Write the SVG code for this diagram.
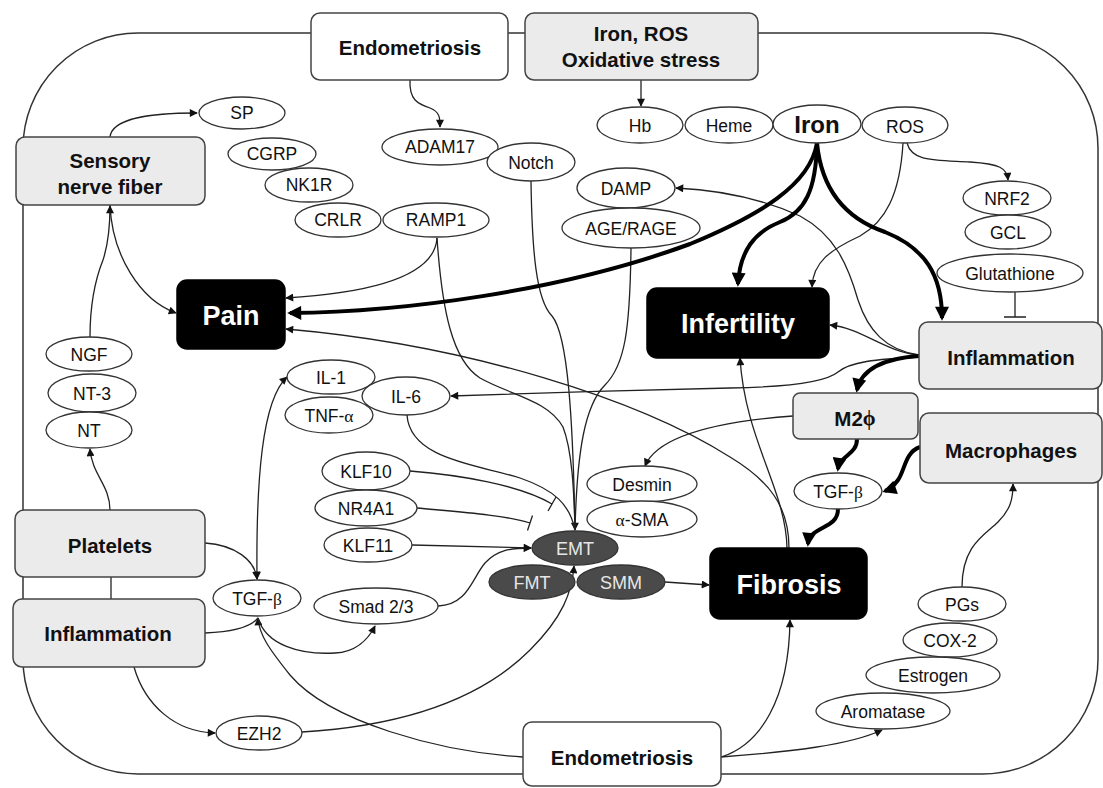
<svg xmlns="http://www.w3.org/2000/svg" width="1103" height="788" viewBox="0 0 1103 788">
<style>
.frame{fill:none;stroke:#333;stroke-width:1.5}
.box{fill:#ebebeb;stroke:#444;stroke-width:1.5}
.wbox{fill:#fff;stroke:#444;stroke-width:1.5}
.bbox{fill:#000;stroke:#000;stroke-width:1.5}
.ell{fill:#fff;stroke:#333;stroke-width:1.3}
.dell{fill:#4a4a4a;stroke:#333;stroke-width:1.3}
.ln{fill:none;stroke:#222;stroke-width:1.3}
.tk{fill:none;stroke:#000;stroke-width:4}
text{font-family:"Liberation Sans",Arial,Helvetica,sans-serif;text-anchor:middle;dominant-baseline:central;fill:#111}
.bt{font-weight:bold;font-size:20.5px}
.et{font-size:17.5px}
.wt{font-weight:bold;font-size:27px;fill:#fff}
.dt{font-size:18px;fill:#e6e6e6}
.gr{font-family:"Liberation Serif","DejaVu Serif",serif}
</style>
<defs>
<marker id="a" viewBox="0 0 10 10" refX="9" refY="5" markerWidth="10" markerHeight="8" markerUnits="userSpaceOnUse" orient="auto-start-reverse"><path d="M0,0 L10,5 L0,10 z" fill="#111"/></marker>
<marker id="ta" viewBox="0 0 10 10" refX="8" refY="5" markerWidth="16" markerHeight="14" markerUnits="userSpaceOnUse" orient="auto"><path d="M0,0 L10,5 L0,10 z" fill="#000"/></marker>
</defs>
<rect class="frame" x="23" y="33" width="1075" height="741" rx="115"/>
<g id="connectors">
<path class="ln" d="M410,80 C409,100 418,104 430,108 C440,112 440,118 440,127" marker-end="url(#a)"/>
<path class="ln" d="M641,80 L641,106" marker-end="url(#a)"/>
<path class="ln" d="M110,137 C112,118 150,113 197,113" marker-end="url(#a)"/>
<path class="ln" d="M907,143 C912,162 935,160 970,162 C1000,164 1007,168 1008,180" marker-end="url(#a)"/>
<path class="ln" d="M903,143 C900,195 885,222 860,236 C830,250 813,262 812,287" marker-end="url(#a)"/>
<path class="ln" d="M1015,292 L1015,317 M1004,317 L1026,317"/>
<path class="ln" d="M919,355 C885,352 862,328 830,325" marker-end="url(#a)"/>
<path class="ln" d="M919,355 C885,350 868,330 858,300 C848,265 835,235 800,216 C760,198 720,190 676,188" marker-end="url(#a)"/>
<path class="ln" d="M919,357 C875,359 850,362 838,372 C826,382 790,387 730,388 C640,390 540,393 451,396" marker-end="url(#a)"/>
<path class="ln" d="M793,416 C740,420 660,430 645,466" marker-end="url(#a)"/>
<path class="ln" d="M787,548 C786,490 745,440 740,358" marker-end="url(#a)"/>
<path class="ln" d="M789,548 C789,505 768,480 730,457 C640,400 470,345 286,329" marker-end="url(#a)"/>
<path class="ln" d="M437,238 C435,272 385,292 286,298" marker-end="url(#a)"/>
<path class="ln" d="M437,238 C442,310 452,360 480,378 C510,395 548,400 563,427 C572,450 574,490 575,530"/>
<path class="ln" d="M531,181 C532,250 536,300 552,316 C568,335 573,420 575,530" marker-end="url(#a)"/>
<path class="ln" d="M631,248 C630,330 625,365 605,385 C585,405 577,450 575,530"/>
<path class="ln" d="M407,415 C410,460 480,465 520,478 C555,490 570,505 575,530"/>
<path class="ln" d="M410,471 C460,475 520,485 552,504 M556,497 L548,511"/>
<path class="ln" d="M417,508 C460,512 505,515 530,523 M532.5,515.5 L527.5,530.5"/>
<path class="ln" d="M412,545 L531,548" marker-end="url(#a)"/>
<path class="ln" d="M438,606 C468,605 472,578 485,563 C497,550 510,548 531,548" marker-end="url(#a)"/>
<path class="ln" d="M665,582 L709,585" marker-end="url(#a)"/>
<path class="ln" d="M302,732 C400,726 480,700 530,650 C563,617 572,592 574,566" marker-end="url(#a)"/>
<path class="ln" d="M523,757 C440,752 330,722 290,675 C270,650 259,635 258,618" marker-end="url(#a)"/>
<path class="ln" d="M205,633 C230,632 250,628 258,618"/>
<path class="ln" d="M258,618 C266,645 300,655 335,653 C355,652 368,640 375,626" marker-end="url(#a)"/>
<path class="ln" d="M205,543 C235,545 255,560 257,579" marker-end="url(#a)"/>
<path class="ln" d="M257,579 C256,480 262,400 287,377" marker-start="url(#a)" marker-end="url(#a)"/>
<path class="ln" d="M110,510 C110,485 92,475 90,449" marker-end="url(#a)"/>
<path class="ln" d="M111,577 L111,599"/>
<path class="ln" d="M134,667 C145,705 175,732 215,733" marker-end="url(#a)"/>
<path class="ln" d="M721,757 C760,745 789,700 790,620" marker-end="url(#a)"/>
<path class="ln" d="M721,757 C790,752 850,745 882,730" marker-end="url(#a)"/>
<path class="ln" d="M962,587 C962,545 985,535 998,522 C1010,510 1013,500 1013,484" marker-end="url(#a)"/>
<path class="ln" d="M110,205 C112,255 140,300 176,313" marker-end="url(#a)"/>
<path class="ln" d="M90,337 C90,300 97,275 103,260 C108,245 110,230 110,206" marker-end="url(#a)"/>
<path class="tk" d="M817,143 C810,185 760,215 690,244 C560,292 400,312 290,313" marker-end="url(#ta)"/>
<path class="tk" d="M817,143 C816,190 805,212 780,222 C755,232 740,250 738,284" marker-end="url(#ta)"/>
<path class="tk" d="M817,143 C822,195 850,220 885,232 C925,248 942,275 942,318" marker-end="url(#ta)"/>
<path class="tk" d="M919,356 C890,358 862,366 857,390" marker-end="url(#ta)"/>
<path class="tk" d="M857,439 C857,455 840,455 838,469" marker-end="url(#ta)"/>
<path class="tk" d="M920,447 C905,452 905,470 898,480 C893,487 888,490 885,491" marker-end="url(#ta)"/>
<path class="tk" d="M838,509 C838,530 810,525 808,544" marker-end="url(#ta)"/>
</g>
<g id="endometriosis-top"><rect class="wbox" x="311" y="13" width="197" height="67" rx="9"/><text class="bt" x="410" y="47">Endometriosis</text></g>
<g id="iron-ros"><rect class="box" x="525" y="13" width="233" height="67" rx="9"/><text class="bt" x="641" y="33">Iron, ROS</text><text class="bt" x="641" y="59">Oxidative stress</text></g>
<g id="sensory"><rect class="box" x="16" y="137" width="189" height="68" rx="9"/><text class="bt" x="110" y="160">Sensory</text><text class="bt" x="110" y="186">nerve fiber</text></g>
<g id="platelets"><rect class="box" x="15" y="510" width="190" height="67" rx="9"/><text class="bt" x="110" y="545">Platelets</text></g>
<g id="inflammation-left"><rect class="box" x="13" y="599" width="192" height="68" rx="9"/><text class="bt" x="108" y="633">Inflammation</text></g>
<g id="pain"><rect class="bbox" x="177" y="280" width="108" height="69" rx="10"/><text class="wt" x="231" y="316">Pain</text></g>
<g id="infertility"><rect class="bbox" x="647" y="288" width="182" height="70" rx="10"/><text class="wt" x="738" y="324">Infertility</text></g>
<g id="fibrosis"><rect class="bbox" x="710" y="548" width="157" height="71" rx="10"/><text class="wt" x="789" y="585">Fibrosis</text></g>
<g id="inflammation-right"><rect class="box" x="919" y="322" width="183" height="67" rx="9"/><text class="bt" x="1011" y="357">Inflammation</text></g>
<g id="macrophages"><rect class="box" x="920" y="413" width="182" height="70" rx="9"/><text class="bt" x="1011" y="450">Macrophages</text></g>
<g id="m2phi"><rect class="box" x="793" y="393" width="125" height="46" rx="7"/><text class="bt" x="855" y="418">M2<tspan class="gr">ϕ</tspan></text></g>
<g id="endometriosis-bottom"><rect class="wbox" x="523" y="722" width="198" height="64" rx="9"/><text class="bt" x="622" y="757">Endometriosis</text></g>
<g id="sp"><ellipse class="ell" cx="242" cy="113" rx="43" ry="16"/><text class="et" x="242" y="113">SP</text></g>
<g id="cgrp"><ellipse class="ell" cx="272" cy="154" rx="44" ry="16"/><text class="et" x="272" y="154">CGRP</text></g>
<g id="nk1r"><ellipse class="ell" cx="309" cy="185" rx="44" ry="17"/><text class="et" x="309" y="185">NK1R</text></g>
<g id="crlr"><ellipse class="ell" cx="338" cy="220" rx="43" ry="17"/><text class="et" x="338" y="220">CRLR</text></g>
<g id="ramp1"><ellipse class="ell" cx="436" cy="220" rx="53" ry="17"/><text class="et" x="436" y="220">RAMP1</text></g>
<g id="adam17"><ellipse class="ell" cx="440" cy="147" rx="58" ry="18"/><text class="et" x="440" y="147">ADAM17</text></g>
<g id="notch"><ellipse class="ell" cx="531" cy="162" rx="44" ry="19"/><text class="et" x="531" y="163">Notch</text></g>
<g id="hb"><ellipse class="ell" cx="640" cy="125" rx="43" ry="18"/><text class="et" x="640" y="126">Hb</text></g>
<g id="heme"><ellipse class="ell" cx="729" cy="125" rx="44" ry="18"/><text class="et" x="729" y="126">Heme</text></g>
<g id="iron"><ellipse class="ell" cx="817" cy="124" rx="44" ry="19"/><text x="817" y="124" style="font-weight:bold;font-size:24px">Iron</text></g>
<g id="ros"><ellipse class="ell" cx="905" cy="125" rx="43" ry="18"/><text class="et" x="905" y="127">ROS</text></g>
<g id="damp"><ellipse class="ell" cx="626" cy="188" rx="49" ry="20"/><text class="et" x="626" y="189">DAMP</text></g>
<g id="agerage"><ellipse class="ell" cx="631" cy="228" rx="69" ry="20"/><text class="et" x="631" y="229">AGE/RAGE</text></g>
<g id="nrf2"><ellipse class="ell" cx="1007" cy="198" rx="44" ry="17"/><text class="et" x="1007" y="199">NRF2</text></g>
<g id="gcl"><ellipse class="ell" cx="1008" cy="232" rx="43" ry="17"/><text class="et" x="1008" y="233">GCL</text></g>
<g id="glutathione"><ellipse class="ell" cx="1010" cy="273" rx="73" ry="19"/><text class="et" x="1010" y="274">Glutathione</text></g>
<g id="ngf"><ellipse class="ell" cx="89" cy="354" rx="43" ry="17"/><text class="et" x="89" y="355">NGF</text></g>
<g id="nt3"><ellipse class="ell" cx="92" cy="393" rx="44" ry="19"/><text class="et" x="92" y="394">NT-3</text></g>
<g id="nt"><ellipse class="ell" cx="89" cy="430" rx="43" ry="18"/><text class="et" x="89" y="431">NT</text></g>
<g id="il1"><ellipse class="ell" cx="331" cy="377" rx="44" ry="17"/><text class="et" x="331" y="378">IL-1</text></g>
<g id="tnfa"><ellipse class="ell" cx="329" cy="415" rx="44" ry="18"/><text class="et" x="329" y="416">TNF-<tspan class="gr">α</tspan></text></g>
<g id="il6"><ellipse class="ell" cx="406" cy="396" rx="44" ry="19"/><text class="et" x="406" y="397">IL-6</text></g>
<g id="klf10"><ellipse class="ell" cx="366" cy="471" rx="44" ry="19"/><text class="et" x="366" y="472">KLF10</text></g>
<g id="nr4a1"><ellipse class="ell" cx="366" cy="508" rx="51" ry="18"/><text class="et" x="366" y="509">NR4A1</text></g>
<g id="klf11"><ellipse class="ell" cx="368" cy="545" rx="44" ry="17"/><text class="et" x="368" y="546">KLF11</text></g>
<g id="smad"><ellipse class="ell" cx="376" cy="606" rx="62" ry="18"/><text class="et" x="376" y="607">Smad 2/3</text></g>
<g id="tgfb-left"><ellipse class="ell" cx="257" cy="598" rx="44" ry="18"/><text class="et" x="257" y="599">TGF-<tspan class="gr">β</tspan></text></g>
<g id="ezh2"><ellipse class="ell" cx="259" cy="733" rx="43" ry="17"/><text class="et" x="259" y="734">EZH2</text></g>
<g id="desmin"><ellipse class="ell" cx="642" cy="484" rx="55" ry="18"/><text class="et" x="642" y="485">Desmin</text></g>
<g id="asma"><ellipse class="ell" cx="642" cy="519" rx="55" ry="18"/><text class="et" x="642" y="520"><tspan class="gr">α</tspan>-SMA</text></g>
<g id="emt"><ellipse class="dell" cx="575" cy="548" rx="43" ry="17"/><text class="dt" x="575" y="549">EMT</text></g>
<g id="fmt"><ellipse class="dell" cx="532" cy="582" rx="43" ry="17"/><text class="dt" x="532" y="583">FMT</text></g>
<g id="smm"><ellipse class="dell" cx="621" cy="582" rx="44" ry="17"/><text class="dt" x="621" y="583">SMM</text></g>
<g id="tgfb-right"><ellipse class="ell" cx="838" cy="491" rx="44" ry="18"/><text class="et" x="838" y="492">TGF-<tspan class="gr">β</tspan></text></g>
<g id="pgs"><ellipse class="ell" cx="962" cy="604" rx="44" ry="17"/><text class="et" x="962" y="605">PGs</text></g>
<g id="cox2"><ellipse class="ell" cx="950" cy="640" rx="47" ry="17"/><text class="et" x="950" y="641">COX-2</text></g>
<g id="estrogen"><ellipse class="ell" cx="933" cy="675" rx="67" ry="18"/><text class="et" x="933" y="676">Estrogen</text></g>
<g id="aromatase"><ellipse class="ell" cx="883" cy="711" rx="67" ry="18"/><text class="et" x="883" y="712">Aromatase</text></g>
</svg>
